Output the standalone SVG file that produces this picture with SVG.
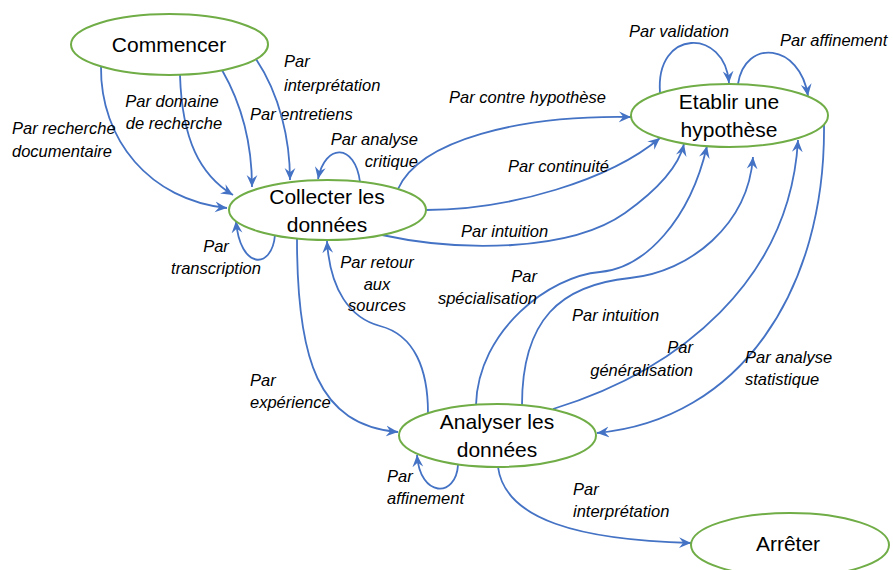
<svg xmlns="http://www.w3.org/2000/svg" width="893" height="570" viewBox="0 0 893 570">
<style>
.node{fill:#fff;stroke:#70AD47;stroke-width:2}
.nt{font-family:"Liberation Sans",Arial,sans-serif;font-size:21px;fill:#000;text-anchor:middle}
.c{fill:none;stroke:#4472C4;stroke-width:1.8;marker-end:url(#ah)}
.l{font-family:"Liberation Sans",Arial,sans-serif;font-size:16.5px;font-style:italic;fill:#000}
.m{text-anchor:middle}
.e{text-anchor:end}
</style>
<defs>
<marker id="ah" viewBox="0 0 10 10" refX="10" refY="5" markerWidth="12" markerHeight="12" markerUnits="userSpaceOnUse" orient="auto">
<path d="M0,0.5 L10,5 L0,9.5 L3.5,5 z" fill="#4472C4"/>
</marker>
</defs>
<rect width="893" height="570" fill="#fff"/>
<g id="connectors">
<g id="c-recherche-doc"><path class="c" d="M101,66 C100,140 150,200 227,208"/><text class="l" x="12" y="134">Par recherche</text><text class="l" x="12" y="157">documentaire</text></g>
<g id="c-domaine"><path class="c" d="M180,75 C182,140 200,175 233,195"/><text class="l m" x="172" y="107">Par domaine</text><text class="l m" x="174" y="129">de recherche</text></g>
<g id="c-entretiens"><path class="c" d="M222,70 C245,110 252,150 252,187"/><text class="l" x="250" y="120">Par entretiens</text></g>
<g id="c-interpretation1"><path class="c" d="M256,59 C280,95 290,140 290,180"/><text class="l" x="284" y="67">Par</text><text class="l" x="284" y="91">interprétation</text></g>
<g id="c-analyse-critique"><path class="c" d="M360,182 C355,143 325,143 318,179"/><text class="l e" x="418" y="145">Par analyse</text><text class="l e" x="418" y="167">critique</text></g>
<g id="c-transcription"><path class="c" d="M275,235 C272,270 240,270 236,221"/><text class="l m" x="216" y="252">Par</text><text class="l m" x="216" y="274">transcription</text></g>
<g id="c-contre-hyp"><path class="c" d="M398,189 C420,140 520,115 631,117"/><text class="l" x="449" y="103">Par contre hypothèse</text></g>
<g id="c-continuite"><path class="c" d="M426,210 C510,210 610,180 660,138"/><text class="l" x="508" y="172">Par continuité</text></g>
<g id="c-intuition1"><path class="c" d="M382,235 C460,252 570,252 625,213 C660,188 679,165 684,144"/><text class="l" x="461" y="237">Par intuition</text></g>
<g id="c-experience"><path class="c" d="M297,239 C297,360 318,425 398,432"/><text class="l" x="250" y="386">Par</text><text class="l" x="250" y="408">expérience</text></g>
<g id="c-retour"><path class="c" d="M428,413 C428,370 415,335 380,326 C350,318 330,290 327,241"/><text class="l m" x="377" y="268">Par retour</text><text class="l m" x="377" y="290">aux</text><text class="l m" x="377" y="311">sources</text></g>
<g id="c-specialisation"><path class="c" d="M476,405 C478,330 550,276 600,272 C645,268 690,220 707,146"/><text class="l e" x="537" y="282">Par</text><text class="l e" x="537" y="304">spécialisation</text></g>
<g id="c-intuition2"><path class="c" d="M522,405 C522,320 560,285 630,278 C690,272 748,225 753,157"/><text class="l" x="572" y="321">Par intuition</text></g>
<g id="c-generalisation"><path class="c" d="M553,409 C680,370 790,280 798,140"/><text class="l e" x="693" y="353">Par</text><text class="l e" x="693" y="376">généralisation</text></g>
<g id="c-statistique"><path class="c" d="M824,124 C826,290 740,420 597,433"/><text class="l" x="745" y="363">Par analyse</text><text class="l" x="745" y="385">statistique</text></g>
<g id="c-validation"><path class="c" d="M660,93 C655,28 725,28 729,83"/><text class="l" x="629" y="37">Par validation</text></g>
<g id="c-affinement1"><path class="c" d="M738,84 C745,38 800,43 808,96"/><text class="l" x="780" y="46">Par affinement</text></g>
<g id="c-affinement2"><path class="c" d="M458,465 C456,498 420,498 417,455"/><text class="l" x="387" y="482">Par</text><text class="l" x="387" y="504">affinement</text></g>
<g id="c-interpretation2"><path class="c" d="M498,467 C505,520 580,540 691,543"/><text class="l" x="573" y="495">Par</text><text class="l" x="573" y="517">interprétation</text></g>
</g>
<g id="n-commencer"><ellipse class="node" cx="169.5" cy="44.5" rx="98.5" ry="30.5"/><text class="nt" x="169" y="52">Commencer</text></g>
<g id="n-collecter"><ellipse class="node" cx="327.5" cy="210" rx="98.5" ry="30"/><text class="nt" x="327" y="204">Collecter les</text><text class="nt" x="327" y="232">données</text></g>
<g id="n-etablir"><ellipse class="node" cx="729.5" cy="115.5" rx="98.5" ry="31.5"/><text class="nt" x="729" y="109">Etablir une</text><text class="nt" x="729" y="137">hypothèse</text></g>
<g id="n-analyser"><ellipse class="node" cx="497.5" cy="435.5" rx="98.5" ry="31.5"/><text class="nt" x="497" y="429">Analyser les</text><text class="nt" x="497" y="457">données</text></g>
<g id="n-arreter"><ellipse class="node" cx="790" cy="545" rx="99" ry="32"/><text class="nt" x="788" y="551">Arrêter</text></g>
</svg>
